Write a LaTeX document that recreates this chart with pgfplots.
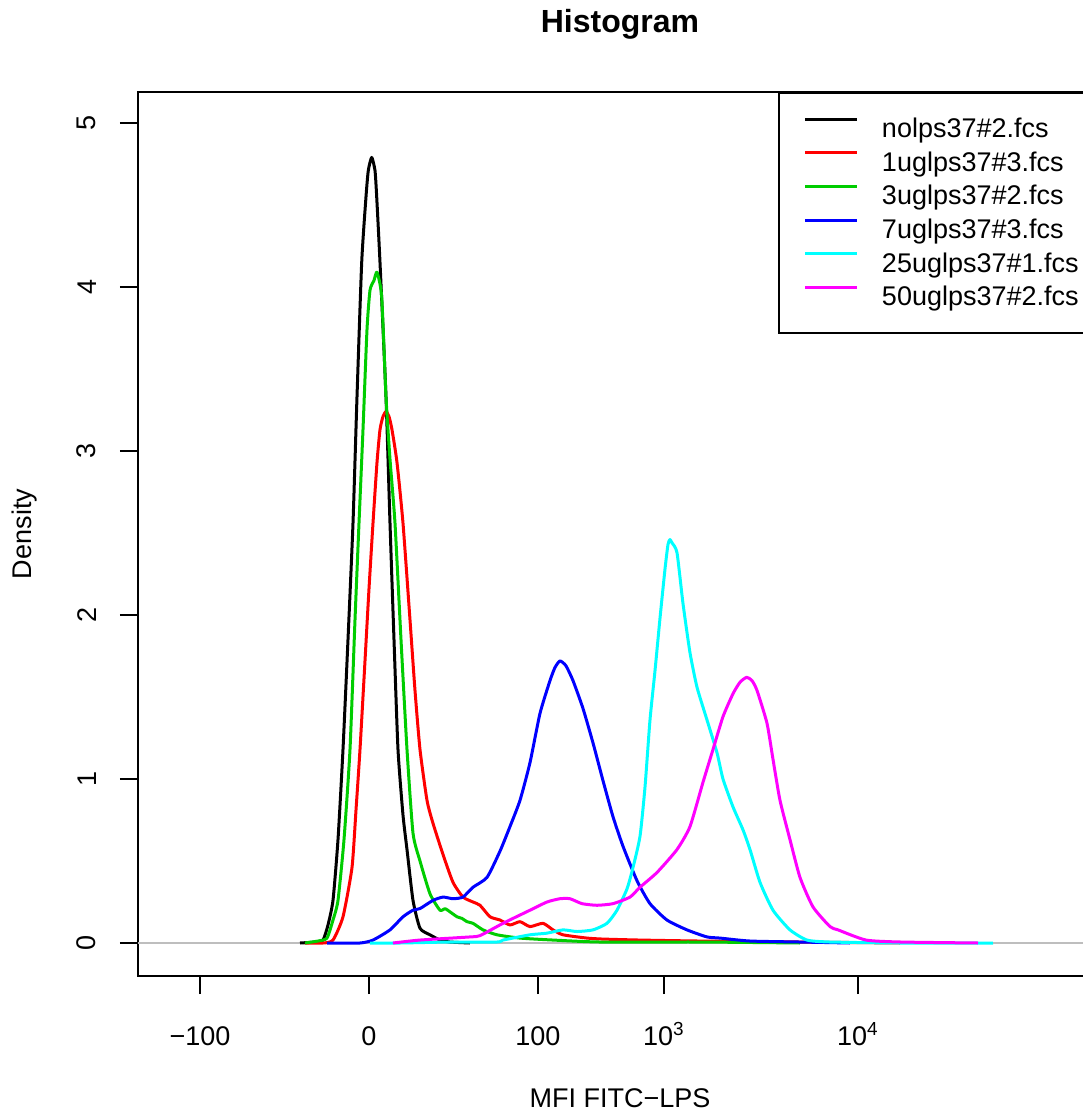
\documentclass[border=0pt]{standalone}
\usepackage{pgfplots}
\pgfplotsset{compat=1.18}
\usepackage{fontspec}
\setmainfont{Liberation Sans}
\definecolor{rgreen}{HTML}{00CD00}
\definecolor{rcyan}{HTML}{00FFFF}
\definecolor{rmag}{HTML}{FF00FF}
\definecolor{rgray}{HTML}{BEBEBE}
\begin{document}
\begin{tikzpicture}
\begin{axis}[
  at={(0pt,0pt)}, anchor=south west,
  scale only axis,
  width=385.6pt, height=353.6pt,
  xmin=138, xmax=1102, ymin=-0.2012, ymax=5.189,
  axis line style={line width=0.8pt},
  xtick={200,369,538,664,858},
  xticklabels={−100,0,100,10\textsuperscript{3},10\textsuperscript{4}},
  ytick={0,1,2,3,4,5},
  tick align=outside, tick pos=left,
  major tick length=7.2pt,
  every tick/.style={black, line width=0.8pt},
  /pgf/number format/assume math mode=true,
  tick label style={font=\fontsize{10.8pt}{13pt}\selectfont},
  xticklabel style={anchor=base, yshift=-20.4pt},
  yticklabel style={rotate=90, anchor=south, inner ysep=9.3pt},
  label style={font=\fontsize{10.8pt}{13pt}\selectfont},
  xlabel={MFI FITC−LPS},
  ylabel={Density},
  xlabel style={at={(axis description cs:0.5,-0.138)}, anchor=center},
  ylabel style={at={(axis description cs:-0.1172,0.5)}, anchor=center},
  title={Histogram},
  title style={at={(axis description cs:0.5,1.060)}, anchor=center, yshift=0pt, font=\bfseries\fontsize{12.8pt}{15pt}\selectfont},
  legend style={at={(axis description cs:0.6639,1)}, anchor=north west,
    draw=black, line width=0.8pt, fill=white,
    inner xsep=10pt, inner ysep=8.9pt, row sep=2.44pt, column sep=9.2pt,
    font=\fontsize{10.8pt}{13pt}\selectfont,
    nodes={inner sep=0pt, text height=9pt, text depth=2pt, text width=82pt, align=left},
    cells={anchor=west}},
  legend image code/.code={\draw[#1, line width=1.2pt] (0pt,3.9pt) -- (20.8pt,3.9pt);},
  every axis plot/.append style={line width=1.2pt, line join=round, smooth, tension=0.35},
]
\addplot[rgray, line width=0.7pt, forget plot, sharp plot] coordinates {(138,0) (1102,0)};

\addplot[black] coordinates {
(300,0) (315,0.006) (323,0.018) (328,0.11) (333,0.26) (338,0.63) (343,1.18) (348,1.85)
(353,2.56) (357,3.33) (361.7,4.15) (366,4.55) (368.3,4.71) (371.7,4.79) (375,4.71)
(376.7,4.55) (380,4.15) (386,3.33) (390,2.56) (394,1.85) (398,1.18) (403,0.78) (407,0.57)
(413,0.26) (420,0.09) (430,0.05) (440,0.018) (450,0.006) (470,0)
};
\addlegendentry{nolps37\#2.fcs}

\addplot[red] coordinates {
(305,0) (323,0) (333,0.018) (343,0.16) (352,0.46) (356,0.81) (360,1.18) (365,1.72)
(369,2.16) (373,2.56) (377,2.93) (380,3.13) (383,3.21) (386,3.24) (389,3.21) (392,3.13)
(397,2.93) (403,2.56) (410,1.97) (415,1.54) (420,1.18) (427,0.87) (433,0.73) (443,0.54)
(453,0.37) (463,0.28) (473,0.25) (480,0.23) (490,0.16) (500,0.14) (510,0.11) (520,0.13)
(530,0.10) (543,0.12) (553,0.08) (563,0.05) (587,0.03) (603,0.024) (640,0.018)
(700,0.012) (800,0.006) (900,0)
};
\addlegendentry{1uglps37\#3.fcs}

\addplot[rgreen] coordinates {
(305,0) (318,0.012) (327,0.03) (333,0.14) (338,0.26) (344,0.63) (350,1.18) (355,1.97)
(359,2.56) (363,3.13) (367,3.74) (370,3.98) (374,4.04) (377,4.09) (381.7,3.94) (386,3.33)
(390,2.95) (395,2.56) (401,1.85) (407,1.18) (413,0.67) (420,0.50) (430,0.30) (440,0.20)
(445,0.21) (450,0.19) (457,0.16) (462,0.15) (467,0.13) (473,0.12) (483,0.08) (497,0.05)
(520,0.03) (553,0.018) (600,0.006) (700,0.006) (800,0)
};
\addlegendentry{3uglps37\#2.fcs}

\addplot[blue] coordinates {
(327,0) (360,0) (373,0.018) (390,0.08) (403,0.16) (413,0.20) (420,0.21) (433,0.26)
(443,0.28) (453,0.27) (463,0.28) (473,0.34) (487,0.40) (500,0.56) (510,0.71) (520,0.87)
(530,1.10) (540,1.40) (550,1.60) (555,1.68) (560,1.72) (566,1.69) (573,1.60) (583,1.43)
(593,1.22) (603,0.99) (613,0.77) (623,0.59) (637,0.38) (650,0.24) (667,0.14) (687,0.08)
(707,0.037) (720,0.03) (750,0.012) (800,0.006) (850,0)
};
\addlegendentry{7uglps37\#3.fcs}

\addplot[rcyan] coordinates {
(370,0) (400,0) (450,0.006) (497,0.006) (503,0.018) (530,0.05) (547,0.06) (563,0.08)
(577,0.07) (593,0.08) (607,0.12) (617,0.20) (627,0.33) (633,0.46) (640,0.65) (645,0.95)
(650,1.36) (655,1.66) (660,1.98) (665,2.28) (668,2.43) (670,2.46) (672,2.44) (677,2.38)
(683,2.07) (690,1.77) (697,1.56) (707,1.36) (717,1.16) (723,1.00) (733,0.83) (743,0.69)
(750,0.57) (760,0.37) (773,0.20) (790,0.08) (807,0.018) (830,0.006) (900,0) (993,0)
};
\addlegendentry{25uglps37\#1.fcs}

\addplot[rmag] coordinates {
(393,0) (420,0.018) (470,0.037) (480,0.045) (503,0.12) (530,0.20) (547,0.25) (560,0.27)
(570,0.27) (582,0.24) (597,0.23) (613,0.24) (630,0.28) (640,0.34) (657,0.43) (677,0.57)
(690,0.71) (703,0.98) (713,1.18) (723,1.38) (733,1.52) (740,1.59) (746.7,1.62) (752,1.60)
(757,1.54) (767,1.34) (773,1.12) (780,0.87) (790,0.63) (800,0.40) (813,0.22) (830,0.10)
(838,0.08) (866,0.018) (901,0.006) (978,0)
};
\addlegendentry{50uglps37\#2.fcs}
\end{axis}
\pgfresetboundingbox
\useasboundingbox (-55.2pt,-53.6pt) rectangle (378pt,390.4pt);
\end{tikzpicture}
\end{document}
